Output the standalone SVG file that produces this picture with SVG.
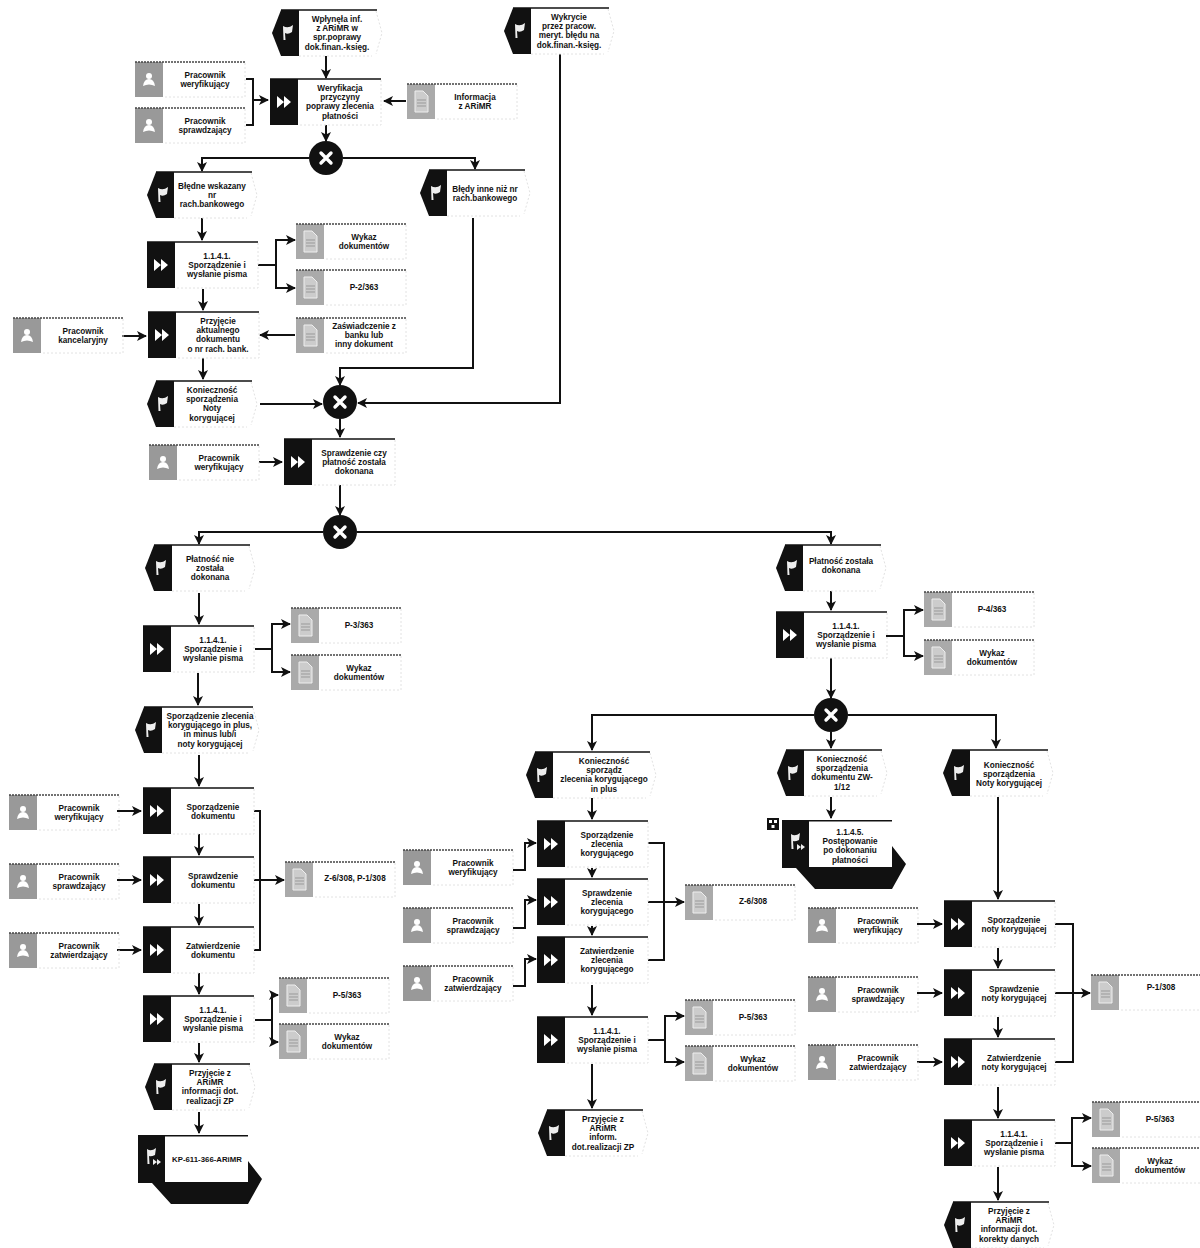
<svg xmlns="http://www.w3.org/2000/svg" xmlns:xlink="http://www.w3.org/1999/xlink" width="1200" height="1248" viewBox="0 0 1200 1248">
<style>
text{font-family:"Liberation Sans",Arial,sans-serif;font-size:8.2px;font-weight:700;fill:#111;text-anchor:middle}
.c path{fill:none;stroke:#111;stroke-width:2}
.c .a{marker-end:url(#ah)}
.lite{fill:none;stroke:#e2e2e2;stroke-width:1;stroke-dasharray:2 2}
.dot{fill:none;stroke:#444;stroke-width:1.4;stroke-dasharray:2 1}
.top{fill:none;stroke:#111;stroke-width:1.5}
</style>
<defs>
<marker id="ah" markerUnits="userSpaceOnUse" markerWidth="11" markerHeight="10" refX="9" refY="5" orient="auto"><path d="M0,0L10,5L0,10L2.5,5Z" fill="#111"/></marker>
<g id="evl"><path d="M0,23L9,0H27V46H9Z" fill="#111"/><path d="M11,16Q16,19 21,15L20,22Q16,25 13,23L13.500,30L11.500,30Z" fill="#eee"/></g>
<g id="ev"><use href="#evl"/><path d="M9,0H105" class="top"/><path d="M104,1L110,23L104,44M27,46H100" class="lite"/></g>
<g id="fn"><rect width="28" height="46" fill="#111"/><path d="M0,0H111" class="top"/><path d="M111,1V46H28" class="lite"/><path d="M7,17L14,23L7,29ZM14,17L21,23L14,29Z" fill="#fff"/></g>
<g id="ro"><rect width="28" height="35" fill="#999"/><path d="M0,0H110" class="dot"/><path d="M110,1V35H28" class="lite"/><circle cx="14" cy="14" r="3" fill="#fff"/><path d="M8,24Q9,17 14,17Q19,17 20,24Q14,21 8,24Z" fill="#fff"/></g>
<g id="dc"><rect width="28" height="35" fill="#aaa"/><path d="M0,0H110" class="dot"/><path d="M110,1V35H28" class="lite"/><path d="M8,7H16L21,12V28H8Z" fill="#ccc" stroke="#eee"/><path d="M10,16H19M10,19H19M10,22H19" stroke="#999"/></g>
<g id="xo"><circle r="17" fill="#111"/><path d="M-5,-5L5,5M5,-5L-5,5" stroke="#fff" stroke-width="3.4" stroke-linecap="round"/></g>
<g id="pi"><path d="M0,0H110V26L124,44L110,69H33L14,48H0Z" fill="#111"/><rect x="27" y="1.500" width="83" height="45.500" fill="#fff"/><path d="M9,14Q13,17 18,13L17,20Q13,22 11,21L11.500,29H9.500ZM15,24L19,27L15,30ZM19,24L23,27L19,30Z" fill="#eee"/></g>
</defs>
<rect width="1200" height="1248" fill="#fff"/>
<g id="connectors" class="c">
<path class="a" d="M326,56V78"/>
<path d="M246,79H253V125H246"/><path class="a" d="M253,100H268"/>
<path class="a" d="M406,101H384"/>
<path class="a" d="M326,125V141"/>
<path class="a" d="M309,158H202V171"/><path class="a" d="M343,158H475V169"/>
<path class="a" d="M202,218V240"/>
<path d="M258,265H276"/><path class="a" d="M276,265V240H295"/><path class="a" d="M276,265V288H295"/>
<path class="a" d="M203,289V310"/>
<path class="a" d="M122,336H146"/>
<path class="a" d="M295,335H260"/>
<path class="a" d="M203,358V379"/>
<path class="a" d="M260,404H322"/>
<path class="a" d="M473,218V368H340V385"/>
<path class="a" d="M560,54V403H358"/>
<path class="a" d="M340,419V437"/>
<path class="a" d="M259,462H282"/>
<path class="a" d="M340,485V515"/>
<path class="a" d="M323,532H199V544"/>
<path class="a" d="M357,532H831V544"/>
<path class="a" d="M199,593V624"/>
<path d="M255,649H272"/><path class="a" d="M272,649V624H290"/><path class="a" d="M272,649V672H290"/>
<path class="a" d="M198,673V705"/>
<path class="a" d="M199,755V786"/>
<path class="a" d="M117,811H141"/><path class="a" d="M117,880H141"/><path class="a" d="M117,950H141"/>
<path class="a" d="M199,834V855"/><path class="a" d="M199,904V925"/><path class="a" d="M199,973V994"/>
<path d="M254,811H260V950H254"/><path class="a" d="M254,880H284"/>
<path d="M255,1020H272"/><path class="a" d="M272,1020V995H278"/><path class="a" d="M272,1020V1042H278"/>
<path class="a" d="M199,1043V1062"/>
<path class="a" d="M199,1112V1133"/>
<path class="a" d="M831,591V610"/>
<path d="M886,636H904"/><path class="a" d="M904,636V610H923"/><path class="a" d="M904,636V656H923"/>
<path class="a" d="M831,658V698"/>
<path class="a" d="M814,715H592V750"/><path class="a" d="M831,732V748"/><path class="a" d="M848,715H996V748"/>
<path class="a" d="M592,798V819"/><path class="a" d="M592,868V877"/><path class="a" d="M592,926V935"/><path class="a" d="M592,985V1015"/><path class="a" d="M592,1064V1108"/>
<path class="a" d="M513,870H525V843H536"/><path class="a" d="M513,928H525V900H536"/><path class="a" d="M513,986H525V959H536"/>
<path d="M648,843H664V960H648"/><path class="a" d="M648,902H684"/>
<path d="M648,1040H665"/><path class="a" d="M665,1040V1016H684"/><path class="a" d="M665,1040V1062H684"/>
<path class="a" d="M831,797V818"/>
<path class="a" d="M998,797V899"/>
<path class="a" d="M917,924H942"/><path class="a" d="M917,993H942"/><path class="a" d="M917,1062H942"/>
<path class="a" d="M998,948V968"/><path class="a" d="M998,1017V1037"/><path class="a" d="M998,1087V1118"/>
<path d="M1055,924H1073V1062H1055"/><path class="a" d="M1055,993H1090"/>
<path d="M1055,1143H1072"/><path class="a" d="M1072,1143V1118H1091"/><path class="a" d="M1072,1143V1166H1091"/>
<path class="a" d="M998,1167V1200"/>
</g>
<g id="e1" transform="translate(272,10)"><use href="#ev"/><text y="12"><tspan x="65">Wpłynęła inf.</tspan><tspan x="65" dy="9.2">z ARiMR w</tspan><tspan x="65" dy="9.2">spr.poprawy</tspan><tspan x="65" dy="9.2">dok.finan.-księg.</tspan></text></g>
<g id="e2" transform="translate(504,8)"><use href="#ev"/><text y="12"><tspan x="65">Wykrycie</tspan><tspan x="65" dy="9.2">przez pracow.</tspan><tspan x="65" dy="9.2">meryt. błędu na</tspan><tspan x="65" dy="9.2">dok.finan.-księg.</tspan></text></g>
<g id="e3" transform="translate(147,172)"><use href="#ev"/><text y="17"><tspan x="65">Błędne wskazany</tspan><tspan x="65" dy="9.2">nr</tspan><tspan x="65" dy="9.2">rach.bankowego</tspan></text></g>
<g id="e4" transform="translate(420,170)"><use href="#ev"/><text y="21.5"><tspan x="65">Błędy inne niż nr</tspan><tspan x="65" dy="9.2">rach.bankowego</tspan></text></g>
<g id="e5" transform="translate(147,381)"><use href="#ev"/><text y="12"><tspan x="65">Konieczność</tspan><tspan x="65" dy="9.2">sporządzenia</tspan><tspan x="65" dy="9.2">Noty</tspan><tspan x="65" dy="9.2">korygującej</tspan></text></g>
<g id="e6" transform="translate(145,545)"><use href="#ev"/><text y="17"><tspan x="65">Płatność nie</tspan><tspan x="65" dy="9.2">została</tspan><tspan x="65" dy="9.2">dokonana</tspan></text></g>
<g id="e7" transform="translate(776,545)"><use href="#ev"/><text y="19"><tspan x="65">Płatność została</tspan><tspan x="65" dy="9.2">dokonana</tspan></text></g>
<g id="e8" transform="translate(135,707)"><use href="#evl"/><path d="M9,0H118" class="top"/><path d="M118,1L124,23L118,44M27,46H114" class="lite"/><text y="12"><tspan x="75">Sporządzenie zlecenia</tspan><tspan x="75" dy="9.2">korygującego in plus,</tspan><tspan x="75" dy="9.2">in minus lub/i</tspan><tspan x="75" dy="9.2">noty korygującej</tspan></text></g>
<g id="e9" transform="translate(526,752)"><use href="#evl"/><path d="M9,0H124" class="top"/><path d="M124,1L130,23L124,44M27,46H120" class="lite"/><text y="12"><tspan x="78">Konieczność</tspan><tspan x="78" dy="9.2">sporządz</tspan><tspan x="78" dy="9.2">zlecenia korygującego</tspan><tspan x="78" dy="9.2">in plus</tspan></text></g>
<g id="e10" transform="translate(777,750)"><use href="#ev"/><text y="12"><tspan x="65">Konieczność</tspan><tspan x="65" dy="9.2">sporządzenia</tspan><tspan x="65" dy="9.2">dokumentu ZW-</tspan><tspan x="65" dy="9.2">1/12</tspan></text></g>
<g id="e11" transform="translate(943,750)"><use href="#ev"/><text y="18"><tspan x="66">Konieczność</tspan><tspan x="66" dy="9.2">sporządzenia</tspan><tspan x="66" dy="9.2">Noty korygującej</tspan></text></g>
<g id="e12" transform="translate(145,1064)"><use href="#ev"/><text y="12"><tspan x="65">Przyjęcie z</tspan><tspan x="65" dy="9.2">ARiMR</tspan><tspan x="65" dy="9.2">informacji dot.</tspan><tspan x="65" dy="9.2">realizacji ZP</tspan></text></g>
<g id="e13" transform="translate(538,1110)"><use href="#ev"/><text y="12"><tspan x="65">Przyjęcie z</tspan><tspan x="65" dy="9.2">ARiMR</tspan><tspan x="65" dy="9.2">inform.</tspan><tspan x="65" dy="9.2">dot.realizacji ZP</tspan></text></g>
<g id="e14" transform="translate(944,1202)"><use href="#ev"/><text y="12"><tspan x="65">Przyjęcie z</tspan><tspan x="65" dy="9.2">ARiMR</tspan><tspan x="65" dy="9.2">informacji dot.</tspan><tspan x="65" dy="9.2">korekty danych</tspan></text></g>
<g id="f1" transform="translate(270,79)"><use href="#fn"/><text y="12"><tspan x="70">Weryfikacja</tspan><tspan x="70" dy="9.2">przyczyny</tspan><tspan x="70" dy="9.2">poprawy zlecenia</tspan><tspan x="70" dy="9.2">płatności</tspan></text></g>
<g id="f2" transform="translate(147,242)"><use href="#fn"/><text y="17"><tspan x="70">1.1.4.1.</tspan><tspan x="70" dy="9.2">Sporządzenie i</tspan><tspan x="70" dy="9.2">wysłanie pisma</tspan></text></g>
<g id="f3" transform="translate(148,312)"><use href="#fn"/><text y="12"><tspan x="70">Przyjęcie</tspan><tspan x="70" dy="9.2">aktualnego</tspan><tspan x="70" dy="9.2">dokumentu</tspan><tspan x="70" dy="9.2">o nr rach. bank.</tspan></text></g>
<g id="f4" transform="translate(284,439)"><use href="#fn"/><text y="17"><tspan x="70">Sprawdzenie czy</tspan><tspan x="70" dy="9.2">płatność została</tspan><tspan x="70" dy="9.2">dokonana</tspan></text></g>
<g id="f5" transform="translate(143,626)"><use href="#fn"/><text y="17"><tspan x="70">1.1.4.1.</tspan><tspan x="70" dy="9.2">Sporządzenie i</tspan><tspan x="70" dy="9.2">wysłanie pisma</tspan></text></g>
<g id="f6" transform="translate(776,612)"><use href="#fn"/><text y="17"><tspan x="70">1.1.4.1.</tspan><tspan x="70" dy="9.2">Sporządzenie i</tspan><tspan x="70" dy="9.2">wysłanie pisma</tspan></text></g>
<g id="f7" transform="translate(143,788)"><use href="#fn"/><text y="21.5"><tspan x="70">Sporządzenie</tspan><tspan x="70" dy="9.2">dokumentu</tspan></text></g>
<g id="f8" transform="translate(143,857)"><use href="#fn"/><text y="21.5"><tspan x="70">Sprawdzenie</tspan><tspan x="70" dy="9.2">dokumentu</tspan></text></g>
<g id="f9" transform="translate(143,927)"><use href="#fn"/><text y="21.5"><tspan x="70">Zatwierdzenie</tspan><tspan x="70" dy="9.2">dokumentu</tspan></text></g>
<g id="f10" transform="translate(143,996)"><use href="#fn"/><text y="17"><tspan x="70">1.1.4.1.</tspan><tspan x="70" dy="9.2">Sporządzenie i</tspan><tspan x="70" dy="9.2">wysłanie pisma</tspan></text></g>
<g id="f11" transform="translate(537,821)"><use href="#fn"/><text y="17"><tspan x="70">Sporządzenie</tspan><tspan x="70" dy="9.2">zlecenia</tspan><tspan x="70" dy="9.2">korygującego</tspan></text></g>
<g id="f12" transform="translate(537,879)"><use href="#fn"/><text y="17"><tspan x="70">Sprawdzenie</tspan><tspan x="70" dy="9.2">zlecenia</tspan><tspan x="70" dy="9.2">korygującego</tspan></text></g>
<g id="f13" transform="translate(537,937)"><use href="#fn"/><text y="17"><tspan x="70">Zatwierdzenie</tspan><tspan x="70" dy="9.2">zlecenia</tspan><tspan x="70" dy="9.2">korygującego</tspan></text></g>
<g id="f14" transform="translate(537,1017)"><use href="#fn"/><text y="17"><tspan x="70">1.1.4.1.</tspan><tspan x="70" dy="9.2">Sporządzenie i</tspan><tspan x="70" dy="9.2">wysłanie pisma</tspan></text></g>
<g id="f15" transform="translate(944,901)"><use href="#fn"/><text y="21.5"><tspan x="70">Sporządzenie</tspan><tspan x="70" dy="9.2">noty korygującej</tspan></text></g>
<g id="f16" transform="translate(944,970)"><use href="#fn"/><text y="21.5"><tspan x="70">Sprawdzenie</tspan><tspan x="70" dy="9.2">noty korygującej</tspan></text></g>
<g id="f17" transform="translate(944,1039)"><use href="#fn"/><text y="21.5"><tspan x="70">Zatwierdzenie</tspan><tspan x="70" dy="9.2">noty korygującej</tspan></text></g>
<g id="f18" transform="translate(944,1120)"><use href="#fn"/><text y="17"><tspan x="70">1.1.4.1.</tspan><tspan x="70" dy="9.2">Sporządzenie i</tspan><tspan x="70" dy="9.2">wysłanie pisma</tspan></text></g>
<g id="r1" transform="translate(135,62)"><use href="#ro"/><text y="16"><tspan x="70">Pracownik</tspan><tspan x="70" dy="9.2">weryfikujący</tspan></text></g>
<g id="r2" transform="translate(135,108)"><use href="#ro"/><text y="16"><tspan x="70">Pracownik</tspan><tspan x="70" dy="9.2">sprawdzający</tspan></text></g>
<g id="r3" transform="translate(13,318)"><use href="#ro"/><text y="16"><tspan x="70">Pracownik</tspan><tspan x="70" dy="9.2">kancelaryjny</tspan></text></g>
<g id="r4" transform="translate(149,445)"><use href="#ro"/><text y="16"><tspan x="70">Pracownik</tspan><tspan x="70" dy="9.2">weryfikujący</tspan></text></g>
<g id="r5" transform="translate(9,795)"><use href="#ro"/><text y="16"><tspan x="70">Pracownik</tspan><tspan x="70" dy="9.2">weryfikujący</tspan></text></g>
<g id="r6" transform="translate(9,864)"><use href="#ro"/><text y="16"><tspan x="70">Pracownik</tspan><tspan x="70" dy="9.2">sprawdzający</tspan></text></g>
<g id="r7" transform="translate(9,933)"><use href="#ro"/><text y="16"><tspan x="70">Pracownik</tspan><tspan x="70" dy="9.2">zatwierdzający</tspan></text></g>
<g id="r8" transform="translate(403,850)"><use href="#ro"/><text y="16"><tspan x="70">Pracownik</tspan><tspan x="70" dy="9.2">weryfikujący</tspan></text></g>
<g id="r9" transform="translate(403,908)"><use href="#ro"/><text y="16"><tspan x="70">Pracownik</tspan><tspan x="70" dy="9.2">sprawdzający</tspan></text></g>
<g id="r10" transform="translate(403,966)"><use href="#ro"/><text y="16"><tspan x="70">Pracownik</tspan><tspan x="70" dy="9.2">zatwierdzający</tspan></text></g>
<g id="r11" transform="translate(808,908)"><use href="#ro"/><text y="16"><tspan x="70">Pracownik</tspan><tspan x="70" dy="9.2">weryfikujący</tspan></text></g>
<g id="r12" transform="translate(808,977)"><use href="#ro"/><text y="16"><tspan x="70">Pracownik</tspan><tspan x="70" dy="9.2">sprawdzający</tspan></text></g>
<g id="r13" transform="translate(808,1045)"><use href="#ro"/><text y="16"><tspan x="70">Pracownik</tspan><tspan x="70" dy="9.2">zatwierdzający</tspan></text></g>
<g id="d1" transform="translate(407,84)"><use href="#dc"/><text y="16"><tspan x="68">Informacja</tspan><tspan x="68" dy="9.2">z ARiMR</tspan></text></g>
<g id="d2" transform="translate(296,224)"><use href="#dc"/><text y="16"><tspan x="68">Wykaz</tspan><tspan x="68" dy="9.2">dokumentów</tspan></text></g>
<g id="d3" transform="translate(296,270)"><use href="#dc"/><text y="20"><tspan x="68">P-2/363</tspan></text></g>
<g id="d4" transform="translate(296,318)"><use href="#dc"/><text y="11"><tspan x="68">Zaświadczenie z</tspan><tspan x="68" dy="9.2">banku lub</tspan><tspan x="68" dy="9.2">inny dokument</tspan></text></g>
<g id="d5" transform="translate(291,608)"><use href="#dc"/><text y="20"><tspan x="68">P-3/363</tspan></text></g>
<g id="d6" transform="translate(291,655)"><use href="#dc"/><text y="16"><tspan x="68">Wykaz</tspan><tspan x="68" dy="9.2">dokumentów</tspan></text></g>
<g id="d7" transform="translate(924,592)"><use href="#dc"/><text y="20"><tspan x="68">P-4/363</tspan></text></g>
<g id="d8" transform="translate(924,640)"><use href="#dc"/><text y="16"><tspan x="68">Wykaz</tspan><tspan x="68" dy="9.2">dokumentów</tspan></text></g>
<g id="d9" transform="translate(285,862)"><use href="#dc"/><text y="19"><tspan x="70">Z-6/308, P-1/308</tspan></text></g>
<g id="d10" transform="translate(279,978)"><use href="#dc"/><text y="20"><tspan x="68">P-5/363</tspan></text></g>
<g id="d11" transform="translate(279,1024)"><use href="#dc"/><text y="16"><tspan x="68">Wykaz</tspan><tspan x="68" dy="9.2">dokumentów</tspan></text></g>
<g id="d12" transform="translate(685,885)"><use href="#dc"/><text y="19"><tspan x="68">Z-6/308</tspan></text></g>
<g id="d13" transform="translate(685,1000)"><use href="#dc"/><text y="20"><tspan x="68">P-5/363</tspan></text></g>
<g id="d14" transform="translate(685,1046)"><use href="#dc"/><text y="16"><tspan x="68">Wykaz</tspan><tspan x="68" dy="9.2">dokumentów</tspan></text></g>
<g id="d15" transform="translate(1091,975)"><use href="#dc"/><text y="15"><tspan x="70">P-1/308</tspan></text></g>
<g id="d16" transform="translate(1092,1102)"><use href="#dc"/><text y="20"><tspan x="68">P-5/363</tspan></text></g>
<g id="d17" transform="translate(1092,1148)"><use href="#dc"/><text y="16"><tspan x="68">Wykaz</tspan><tspan x="68" dy="9.2">dokumentów</tspan></text></g>
<g id="x1" transform="translate(326,158)"><use href="#xo"/></g>
<g id="x2" transform="translate(340,402)"><use href="#xo"/></g>
<g id="x3" transform="translate(340,532)"><use href="#xo"/></g>
<g id="x4" transform="translate(831,715)"><use href="#xo"/></g>
<g id="p1" transform="translate(138,1135)"><use href="#pi"/><text y="27" style="font-size:7.8px"><tspan x="69">KP-611-366-ARiMR</tspan></text></g>
<g id="p2" transform="translate(782,820)"><use href="#pi"/><text y="15"><tspan x="68">1.1.4.5.</tspan><tspan x="68" dy="9.2">Postępowanie</tspan><tspan x="68" dy="9.2">po dokonaniu</tspan><tspan x="68" dy="9.2">płatności</tspan></text><g transform="translate(-15,-2)"><rect width="12" height="12" fill="#111"/><path d="M2,2h3v3h-3zM7,2h3v3h-3zM4.500,7h3v3h-3z" fill="#fff"/></g></g>
</svg>
